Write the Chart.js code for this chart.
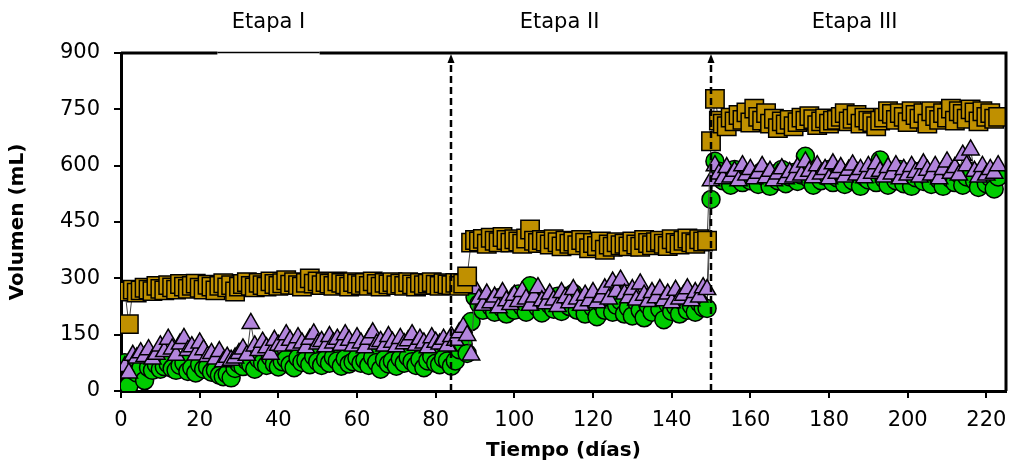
<!DOCTYPE html>
<html>
<head>
<meta charset="utf-8">
<script src="https://cdn.jsdelivr.net/npm/chart.js@4"></script>
<style>
  body { margin: 0; background: #fff; }
  #wrap { width: 1010px; height: 466px; }
</style>
</head>
<body>
<div id="wrap"><canvas id="grafico" width="1010" height="466"></canvas></div>
<script>
// volumen diario (mL), un valor por día desde el día 1
const volCuadrados = [
  265, 178, 270, 262, 268, 275, 270, 266, 280, 272,
  268, 282, 276, 270, 285, 278, 272, 280, 286, 275,
  270, 283, 278, 268, 280, 287, 276, 282, 265, 278,
  285, 290, 280, 276, 288, 282, 278, 292, 285, 280,
  287, 295, 283, 290, 282, 278, 288, 300, 286, 292,
  282, 290, 286, 280, 292, 288, 284, 278, 290, 286,
  282, 288, 280, 292, 285, 278, 288, 284, 290, 282,
  286, 280, 290, 284, 278, 288, 282, 286, 290, 283,
  280, 287, 284, 282, 288, 280, 286, 305,
  395, 402, 398, 405, 392, 408, 400, 396, 410, 402,
  395, 404, 398, 392, 406, 430, 400, 394, 402, 398,
  390, 404, 396, 385, 400, 392, 398, 388, 402, 395,
  380, 394, 386, 398, 376, 390, 384, 396, 388, 392,
  385, 398, 390, 384, 402, 394, 388, 396, 400, 392,
  386, 404, 394, 390, 400, 406, 396, 392, 404, 398,
  400, 665, 778,
  720, 712, 705, 728, 718, 735, 722, 742, 715, 752,
  730, 720, 740, 712, 725, 700, 718, 710, 722, 705,
  716, 728, 720, 732, 724, 708, 718, 726, 712, 720,
  722, 730, 740, 718, 725, 735, 712, 728, 720, 716,
  705, 720, 728, 745, 738, 722, 740, 730, 716, 745,
  735, 725, 740, 712, 745, 732, 722, 740, 728, 752,
  720, 745, 738, 725, 750, 742, 718, 745, 730, 740,
  725, 730
];

const volCirculos = [
  75, 14, 55, 48, 60, 28, 62, 55, 70, 58,
  65, 72, 60, 55, 68, 75, 52, 62, 48, 70,
  58, 64, 50, 55, 42, 38, 45, 35, 60, 72,
  65, 80, 70, 58, 85, 75, 68, 90, 72, 64,
  78, 85, 70, 62, 88, 76, 82, 70, 92, 78,
  68, 84, 74, 90, 80, 66, 86, 72, 78, 88,
  74, 82, 68, 90, 76, 58, 84, 72, 80, 66,
  86, 74, 90, 78, 68, 84, 62, 80, 92, 74,
  70, 86, 80, 66, 80, 110, 125, 100,
  185, 250, 232, 215, 240, 225, 210, 248, 220, 205,
  235, 215, 258, 225, 210, 280, 240, 222, 208, 245,
  230, 218, 252, 212, 238, 225, 260, 215, 232, 205,
  245, 222, 198, 235, 215, 250, 210, 228, 240, 205,
  222, 200, 238, 215, 195, 228, 210, 245, 218, 190,
  232, 212, 225, 205, 238, 215, 228, 210, 235, 222,
  220, 510, 612,
  585, 560, 575, 548, 590, 565, 555, 580, 560, 572,
  550, 585, 568, 545, 578, 560, 590, 552, 570, 582,
  558, 575, 625, 565, 548, 580, 560, 572, 590, 555,
  568, 582, 550, 575, 560, 585, 545, 570, 562, 578,
  555, 615, 565, 548, 580, 560, 590, 552, 575, 545,
  568, 585, 558, 572, 550, 580, 562, 545, 590, 565,
  555, 578, 548, 570, 585, 560, 542, 575, 552, 568,
  538, 570
];

const volTriangulos = [
  65, 48, 95, 88, 102, 92, 110, 85, 98, 120,
  105, 138, 112, 95, 125, 140, 108, 118, 96, 128,
  110, 92, 100, 85, 105, 78, 90, 82, 88, 100,
  112, 95, 180, 120, 108, 130, 115, 98, 135, 122,
  120, 150, 135, 122, 142, 128, 115, 138, 152, 125,
  132, 118, 145, 128, 138, 122, 150, 135, 120, 142,
  128, 115, 138, 155, 125, 132, 120, 145, 130, 118,
  140, 126, 134, 150, 122, 138, 128, 115, 142, 130,
  125, 138, 120, 145, 135, 155, 170, 148,
  96, 272, 245, 228, 258, 235, 250, 222, 262, 240,
  230, 255, 238, 265, 245, 228, 250, 275, 240, 232,
  258, 242, 225, 262, 248, 235, 270, 245, 228, 255,
  240, 262, 235, 250, 272, 245, 290, 265, 295, 258,
  248, 270, 242, 285, 255, 238, 262, 248, 270, 240,
  258, 235, 268, 245, 255, 272, 240, 262, 250, 275,
  270, 560, 600,
  578, 565, 595, 570, 585, 560, 600, 575, 590, 565,
  580, 598, 568, 585, 560, 578, 592, 565, 582, 570,
  595, 575, 610, 585, 568, 600, 578, 590, 565, 605,
  580, 595, 570, 588, 602, 575, 590, 568, 598, 580,
  605, 585, 570, 595, 578, 600, 565, 590, 575, 598,
  582, 570, 605, 588, 575, 598, 565, 590, 610, 580,
  595, 575, 628, 600, 642, 585, 570, 598, 575, 590,
  580, 600
];

// cambios de etapa (día) y rótulos de cada etapa
const cambiosEtapa = [84, 150];
const etapas = ["Etapa I", "Etapa II", "Etapa III"];
const centroEtapas = [37.5, 111.5, 186.5];

const ticksX = [0, 20, 40, 60, 80, 100, 120, 140, 160, 180, 200, 220];
const ticksY = [0, 150, 300, 450, 600, 750, 900];

const fuente = "'DejaVu Sans', sans-serif";

const aPuntos = serie => serie.map((v, i) => ({ x: i + 1, y: v }));

// líneas discontinuas con flecha, rótulos de etapa y marco del gráfico
const decoracion = {
  id: "decoracion",
  afterDraw(chart) {
    const { ctx, chartArea: a, scales: { x } } = chart;
    ctx.save();

    // marco superior y derecho
    ctx.strokeStyle = "#000";
    ctx.lineWidth = 3;
    ctx.beginPath();
    ctx.moveTo(a.left, a.top);
    ctx.lineTo(x.getPixelForValue(24.5), a.top);
    ctx.moveTo(x.getPixelForValue(50.5), a.top);
    ctx.lineTo(a.right, a.top);
    ctx.lineTo(a.right, a.bottom);
    ctx.stroke();
    ctx.lineWidth = 1.5;
    ctx.beginPath();
    ctx.moveTo(x.getPixelForValue(24.5), a.top - 0.5);
    ctx.lineTo(x.getPixelForValue(50.5), a.top - 0.5);
    ctx.stroke();

    // divisiones entre etapas
    cambiosEtapa.forEach(dia => {
      const px = Math.round(x.getPixelForValue(dia));
      ctx.setLineDash([7, 4]);
      ctx.lineWidth = 2.5;
      ctx.beginPath();
      ctx.moveTo(px, a.bottom);
      ctx.lineTo(px, a.top + 8);
      ctx.stroke();
      ctx.setLineDash([]);
      ctx.fillStyle = "#000";
      ctx.beginPath();
      ctx.moveTo(px, a.top + 1);
      ctx.lineTo(px - 3.5, a.top + 10);
      ctx.lineTo(px + 3.5, a.top + 10);
      ctx.closePath();
      ctx.fill();
    });

    // rótulos de etapa
    ctx.fillStyle = "#000";
    ctx.font = "21px " + fuente;
    ctx.textAlign = "center";
    ctx.textBaseline = "middle";
    etapas.forEach((t, i) => {
      ctx.fillText(t, x.getPixelForValue(centroEtapas[i]), 23);
    });
    ctx.restore();
  }
};

new Chart(document.getElementById("grafico"), {
  type: "line",
  data: {
    datasets: [
      {
        label: "Cuadrados",
        data: aPuntos(volCuadrados),
        pointStyle: "rect",
        pointRadius: 13,
        backgroundColor: "#C09000",
        pointBorderColor: "#000",
        pointBorderWidth: 1.5,
        borderColor: "#444",
        borderWidth: 1
      },
      {
        label: "Triángulos",
        data: aPuntos(volTriangulos),
        pointStyle: "triangle",
        pointRadius: 10,
        backgroundColor: "#B285DC",
        pointBorderColor: "#000",
        pointBorderWidth: 1.5,
        borderColor: "#444",
        borderWidth: 1
      },
      {
        label: "Círculos",
        data: aPuntos(volCirculos),
        pointStyle: "circle",
        pointRadius: 9,
        backgroundColor: "#00CC00",
        pointBorderColor: "#000",
        pointBorderWidth: 1.5,
        borderColor: "#444",
        borderWidth: 1
      }
    ]
  },
  options: {
    responsive: false,
    animation: false,
    layout: { autoPadding: false, padding: { top: 53, right: 4, left: 0, bottom: 0 } },
    plugins: {
      legend: { display: false },
      tooltip: { enabled: false }
    },
    elements: { point: { hoverRadius: 0 }, line: { tension: 0 } },
    scales: {
      x: {
        type: "linear",
        min: 0,
        max: 225,
        afterBuildTicks: s => { s.ticks = ticksX.map(v => ({ value: v })); },
        afterFit: s => { s.height = 75; s.paddingLeft = 0; s.paddingRight = 0; },
        ticks: { color: "#000", padding: 10, maxRotation: 0, autoSkip: false, font: { family: fuente, size: 21 } },
        grid: { drawOnChartArea: false, drawTicks: true, tickLength: 7, color: "#000", lineWidth: 2 },
        border: { display: true, color: "#000", width: 3 },
        title: {
          display: true,
          text: "Tiempo (días)",
          color: "#000",
          padding: { top: 0, bottom: 3 },
          font: { family: fuente, size: 20, weight: "bold" }
        }
      },
      y: {
        min: 0,
        max: 900,
        afterBuildTicks: s => { s.ticks = ticksY.map(v => ({ value: v })); },
        afterFit: s => { s.width = 121; },
        ticks: { color: "#000", padding: 14, font: { family: fuente, size: 21 } },
        grid: { drawOnChartArea: false, drawTicks: true, tickLength: 7, color: "#000", lineWidth: 2 },
        border: { display: true, color: "#000", width: 3 },
        title: {
          display: true,
          text: "Volumen (mL)",
          color: "#000",
          padding: { top: 6, bottom: 0 },
          font: { family: fuente, size: 20, weight: "bold" }
        }
      }
    }
  },
  plugins: [decoracion]
});
</script>
</body>
</html>
